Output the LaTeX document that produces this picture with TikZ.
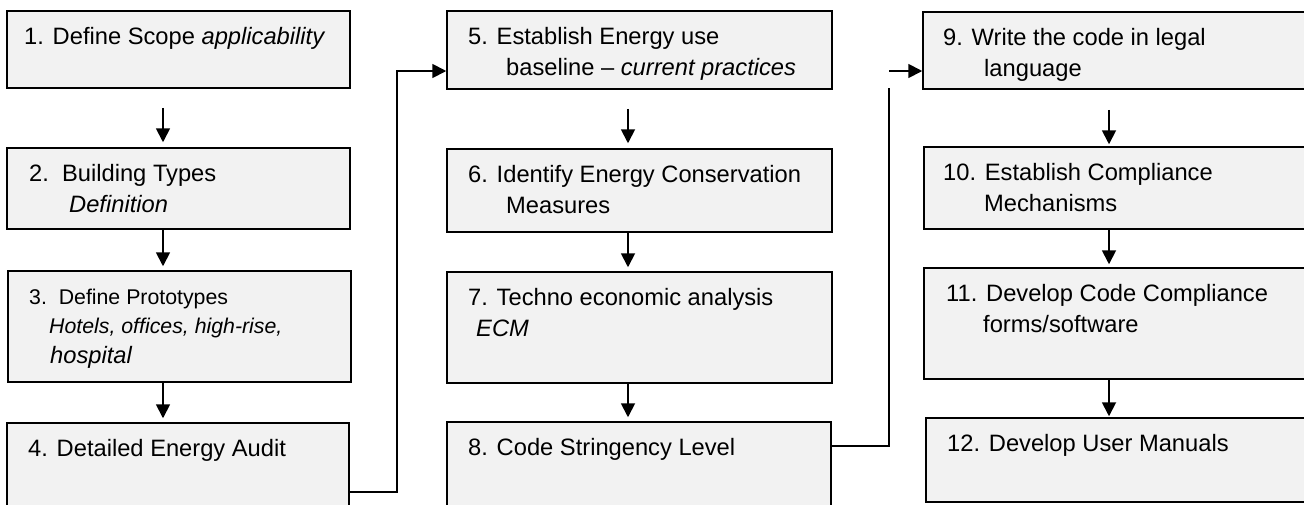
\documentclass[tikz,border=0pt]{standalone}
\usepackage{fontspec}
\setmainfont{Liberation Sans}
\usetikzlibrary{arrows.meta,fit}
\tikzset{
  stepbox/.style={draw=black, line width=1.5pt, fill=gray!10, inner sep=0pt},
  txt/.style={anchor=base west, inner sep=0pt, font=\fontsize{23.7}{28}\selectfont},
  txtsmall/.style={txt, font=\fontsize{21.3}{26}\selectfont},
  link/.style={line width=1.8pt},
  arr/.style={link, -{Triangle[length=14pt,width=14pt]}},
}
\begin{document}
\begin{tikzpicture}[x=1pt,y=-1pt]
\useasboundingbox (0,0) rectangle (1304,504);
\clip (0,0) rectangle (1304,504);

% column guides for the down arrows
\coordinate (c1) at (163,0);
\coordinate (c2) at (628,0);
\coordinate (c3) at (1109,0);

% ---- column 1 ----
\node[stepbox, fit={(7,11) (350,88)}] (b1) {};
\node[stepbox, fit={(7,148) (350,229)}] (b2) {};
\node[stepbox, fit={(8,271) (351,382)}] (b3) {};
\node[stepbox, fit={(7,423) (349,512)}] (b4) {};

\node[txt] (t1a) at (24,44) {1. Define Scope \textit{applicability}};
\node[txt] (t2a) at (29,181) {2.\ \ Building Types};
\node[txt] (t2b) at (69,212) {\textit{Definition}};
\node[txtsmall] (t3a) at (29,304) {3.\ \ Define Prototypes};
\node[txtsmall] (t3b) at (49,333) {\textit{Hotels, offices, high-rise,}};
\node[txt] (t3c) at (50,363) {\textit{hospital}};
\node[txt] (t4a) at (28,456) {4. Detailed Energy Audit};

% ---- column 2 ----
\node[stepbox, fit={(447,11) (832,89)}] (b5) {};
\node[stepbox, fit={(447,149) (832,232)}] (b6) {};
\node[stepbox, fit={(447,272) (832,383)}] (b7) {};
\node[stepbox, fit={(447,422) (831,512)}] (b8) {};

\node[txt] (t5a) at (468,44) {5. Establish Energy use};
\node[txt] (t5b) at (506,75) {baseline -- \textit{current practices}};
\node[txt] (t6a) at (468,182) {6. Identify Energy Conservation};
\node[txt] (t6b) at (506,213) {Measures};
\node[txt] (t7a) at (468,305) {7. Techno economic analysis};
\node[txt] (t7b) at (476,336) {\textit{ECM}};
\node[txt] (t8a) at (468,455) {8. Code Stringency Level};

% ---- column 3 ----
\node[stepbox, fit={(923,12) (1312,89)}] (b9) {};
\node[stepbox, fit={(924,147) (1312,229)}] (b10) {};
\node[stepbox, fit={(924,268) (1312,379)}] (b11) {};
\node[stepbox, fit={(926,418) (1312,502)}] (b12) {};

\node[txt] (t9a) at (943,45) {9. Write the code in legal};
\node[txt] (t9b) at (984,76) {language};
\node[txt] (t10a) at (943,180) {10. Establish Compliance};
\node[txt] (t10b) at (984,211) {Mechanisms};
\node[txt] (t11a) at (946,301) {11. Develop Code Compliance};
\node[txt] (t11b) at (983,332) {forms/software};
\node[txt] (t12a) at (947,451) {12. Develop User Manuals};

% ---- down arrows ----
\draw[arr, shorten <=19pt, shorten >=5pt] (b1.south -| c1) -- (b2.north -| c1);
\draw[arr, shorten >=4pt] (b2.south -| c1) -- (b3.north -| c1);
\draw[arr, shorten >=4pt] (b3.south -| c1) -- (b4.north -| c1);

\draw[arr, shorten <=19pt, shorten >=5pt] (b5.south -| c2) -- (b6.north -| c2);
\draw[arr, shorten >=4pt] (b6.south -| c2) -- (b7.north -| c2);
\draw[arr, shorten >=4pt] (b7.south -| c2) -- (b8.north -| c2);

\draw[arr, shorten <=20pt, shorten >=2pt] (b9.south -| c3) -- (b10.north -| c3);
\draw[arr, shorten >=3pt] (b10.south -| c3) -- (b11.north -| c3);
\draw[arr, shorten >=1pt] (b11.south -| c3) -- (b12.north -| c3);

% ---- links between columns ----
\coordinate (k4) at (397,492);
\coordinate (k5) at (397,71);
\draw[arr] (b4.east |- k4) -- (k4) -- (k5) -- (b5.west |- k5);

\coordinate (k8) at (889,446);
\coordinate (k8top) at (889,88);
\coordinate (k9) at (889,71);
\draw[link] (b8.east |- k8) -- (k8) -- (k8top);
\draw[arr] (k9) -- (b9.west |- k9);
\end{tikzpicture}
\end{document}
